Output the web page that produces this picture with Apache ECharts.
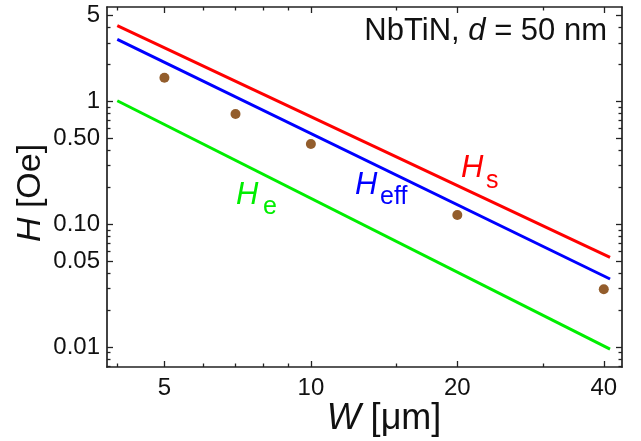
<!DOCTYPE html>
<html>
<head>
<meta charset="utf-8">
<script src="https://cdn.jsdelivr.net/npm/echarts@6/dist/echarts.min.js"></script>
<style>html,body{margin:0;padding:0;background:#fff}#c{width:641px;height:441px}</style>
</head>
<body>
<div id="c"></div>
<script>
// ---- data ----
const W_points = [5, 7, 10, 20, 40];
const H_points = [1.56, 0.79, 0.45, 0.119, 0.0295];
const W_line = [4, 41.2];
const H_s = [4.15, 0.0538];
const H_eff = [3.21, 0.0358];
const H_e = [1.015, 0.0096];
const xMajor = [5, 10, 20, 40];
const xMinor = [4, 6, 7, 8, 9, 15, 30];
const yMajor = [0.01, 0.05, 0.1, 0.5, 1, 5];
const yMajorLabels = ['0.01', '0.05', '0.10', '0.50', '1', '5'];
const yMinor = [0.007, 0.008, 0.009, 0.02, 0.03, 0.04, 0.06, 0.07, 0.08, 0.09, 0.2, 0.3, 0.4, 0.6, 0.7, 0.8, 0.9, 2, 3, 4];

const FONT = 'Liberation Sans, Arial, sans-serif';
const AX = '#222';
const xMin = 3.81, xMax = 43.6, yMin = 0.00687, yMax = 5.89;

function mkX(pos, major, labels) {
  return {
    type: 'log', position: pos, min: xMin, max: xMax,
    axisLine: { show: major, lineStyle: { color: AX, width: 1.7 } },
    axisTick: { show: true, inside: true, length: major ? 6 : 3.5,
      customValues: major ? xMajor : xMinor, lineStyle: { color: AX, width: 1.3 } },
    axisLabel: { show: labels, customValues: xMajor, margin: 9,
      fontFamily: FONT, fontSize: 24, color: '#111',
      formatter: v => String(Math.round(v)) },
    splitLine: { show: false }, minorTick: { show: false }
  };
}
function mkY(pos, major, labels) {
  return {
    type: 'log', position: pos, min: yMin, max: yMax,
    axisLine: { show: major, lineStyle: { color: AX, width: 1.7 } },
    axisTick: { show: true, inside: true, length: major ? 6 : 3.5,
      customValues: major ? yMajor : yMinor, lineStyle: { color: AX, width: 1.3 } },
    axisLabel: { show: labels, customValues: yMajor, margin: 7,
      fontFamily: FONT, fontSize: 24, color: '#111',
      formatter: v => { let best = 0; yMajor.forEach((m, i) => { if (Math.abs(Math.log(m / v)) < Math.abs(Math.log(yMajor[best] / v))) best = i; }); return yMajorLabels[best]; } },
    splitLine: { show: false }, minorTick: { show: false }
  };
}

const chart = echarts.init(document.getElementById('c'), null, { renderer: 'canvas' });
chart.setOption({
  animation: false,
  backgroundColor: '#fff',
  grid: { left: 107, top: 7, right: 19, bottom: 74 },
  xAxis: [mkX('bottom', true, true), mkX('bottom', false, false), mkX('top', true, false), mkX('top', false, false)],
  yAxis: [mkY('left', true, true), mkY('left', false, false), mkY('right', true, false), mkY('right', false, false)],
  series: [
    { type: 'line', data: W_line.map((w, i) => [w, H_e[i]]), showSymbol: false, lineStyle: { color: '#00ee00', width: 3 }, z: 2 },
    { type: 'line', data: W_line.map((w, i) => [w, H_eff[i]]), showSymbol: false, lineStyle: { color: '#0000ff', width: 3 }, z: 2 },
    { type: 'line', data: W_line.map((w, i) => [w, H_s[i]]), showSymbol: false, lineStyle: { color: '#ff0000', width: 3 }, z: 2 },
    { type: 'scatter', data: W_points.map((w, i) => [w, H_points[i]]), symbolSize: 10, itemStyle: { color: '#935d2c', opacity: 1 }, z: 3 }
  ],
  graphic: [
    { type: 'text', x: 607, y: 31, style: { text: '{a|NbTiN, }{i|d}{a| = 50 nm}', align: 'right', verticalAlign: 'middle',
      rich: { a: { fontFamily: FONT, fontSize: 31, fill: '#111' }, i: { fontFamily: FONT, fontSize: 31, fontStyle: 'italic', fill: '#111' } } } },
    { type: 'text', x: 384, y: 419, style: { text: '{i|W }{a|[μm]}', align: 'center', verticalAlign: 'middle',
      rich: { a: { fontFamily: FONT, fontSize: 36, fill: '#111' }, i: { fontFamily: FONT, fontSize: 36, fontStyle: 'italic', fill: '#111' } } } },
    { type: 'text', x: 31, y: 193, rotation: Math.PI / 2, style: { text: '{i|H }{a|[Oe]}', align: 'center', verticalAlign: 'middle',
      rich: { a: { fontFamily: FONT, fontSize: 34, fill: '#111' }, i: { fontFamily: FONT, fontSize: 34, fontStyle: 'italic', fill: '#111' } } } },
    { type: 'text', x: 461, y: 168, style: { text: 'H', fontFamily: FONT, fontSize: 31, fontStyle: 'italic', fill: '#ff0000', verticalAlign: 'middle' } },
    { type: 'text', x: 486, y: 181, style: { text: 's', fontFamily: FONT, fontSize: 25, fill: '#ff0000', verticalAlign: 'middle' } },
    { type: 'text', x: 355, y: 185, style: { text: 'H', fontFamily: FONT, fontSize: 31, fontStyle: 'italic', fill: '#0000ff', verticalAlign: 'middle' } },
    { type: 'text', x: 380, y: 197, style: { text: 'eff', fontFamily: FONT, fontSize: 25, fill: '#0000ff', verticalAlign: 'middle' } },
    { type: 'text', x: 236, y: 195, style: { text: 'H', fontFamily: FONT, fontSize: 31, fontStyle: 'italic', fill: '#00ee00', verticalAlign: 'middle' } },
    { type: 'text', x: 263, y: 207, style: { text: 'e', fontFamily: FONT, fontSize: 25, fill: '#00ee00', verticalAlign: 'middle' } }
  ]
});
</script>
</body>
</html>
